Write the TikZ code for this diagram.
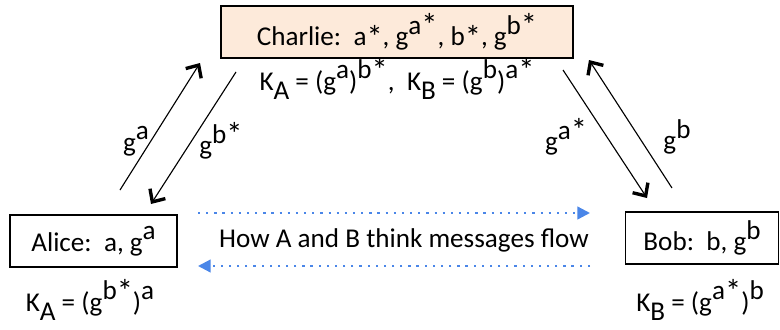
\documentclass[tikz,border=0pt]{standalone}
\usepackage{fontspec}
\setmainfont{Carlito}
\usetikzlibrary{arrows.meta, positioning}
\definecolor{peach}{HTML}{FDEADA}
\definecolor{flowblue}{HTML}{4A86E8}
\newcommand{\up}[1]{\raisebox{0.43em}{#1}}
\newcommand{\dn}[1]{\raisebox{-0.33em}{#1}}
\newcommand{\st}{\raisebox{-0.1em}{\scalebox{1.2}{*}}}
\tikzset{
  party/.style={draw, line width=0.9pt, inner sep=0pt, minimum height=1.3cm},
  msg/.style={-{Straight Barb[length=7pt, width=13pt, line width=2.4pt]}, line width=0.8pt},
  flow/.style={flowblue, line width=1.6pt, dash pattern=on 1.6pt off 4.2pt,
    -{Triangle[length=9pt, width=9pt]}},
  lbl/.style={inner sep=0pt}
}

\begin{document}
\begin{tikzpicture}[x=0.025cm, y=-0.025cm, font=\fontsize{19.3}{23}\selectfont]
\useasboundingbox (0,0) rectangle (780,329);

% the three parties
\node[party, fill=peach, minimum width=8.8cm] (charlie) at (397,32)
  {Charlie:\ \ a\st, g\up{a\st}, b\st, g\up{b\st}};
\node[party, minimum width=4.175cm] (alice) at (93.5,241) {Alice:\ \ a, g\up{a}};
\node[party, minimum width=3.825cm] (bob) at (702,238) {Bob:\ \ b, g\up{b}};

% keys each one ends up with
\node[lbl] (kcharlie) at (397,79)
  {K\dn{A} = (g\up{a})\up{b\st},\ \ K\dn{B} = (g\up{b})\up{a\st}};
\node[lbl] (kalice) at (90,300) {K\dn{A} = (g\up{b\st})\up{a}};
\node[lbl] (kbob) at (700,300) {K\dn{B} = (g\up{a\st})\up{b}};

% messages, Alice side
\coordinate (aout) at (120,190);
\coordinate (ain) at (200,63);
\coordinate (cout) at (236,72);
\coordinate (cin) at (151,204);
\draw[msg] (aout) -- (ain);
\draw[msg] (cout) -- (cin);
\node[lbl] (ga) at (136,141) {g\up{a}};
\node[lbl] (gbs) at (221,141) {g\up{b\st}};

% messages, Bob side
\coordinate (dout) at (563,70);
\coordinate (din) at (647,198);
\coordinate (bout) at (672,188);
\coordinate (bin) at (589,60);
\draw[msg] (dout) -- (din);
\draw[msg] (bout) -- (bin);
\node[lbl] (gas) at (566,137) {g\up{a\st}};
\node[lbl] (gb) at (677,137) {g\up{b}};

% what A and B believe
\coordinate (fl) at (198,213);
\coordinate (fr) at (590,213);
\coordinate (bl) at (198,266);
\coordinate (br) at (590,266);
\draw[flow] (fl) -- (fr);
\draw[flow] (br) -- (bl);
\node[lbl] (belief) at (404,240) {How A and B think messages flow};
\end{tikzpicture}
\end{document}
